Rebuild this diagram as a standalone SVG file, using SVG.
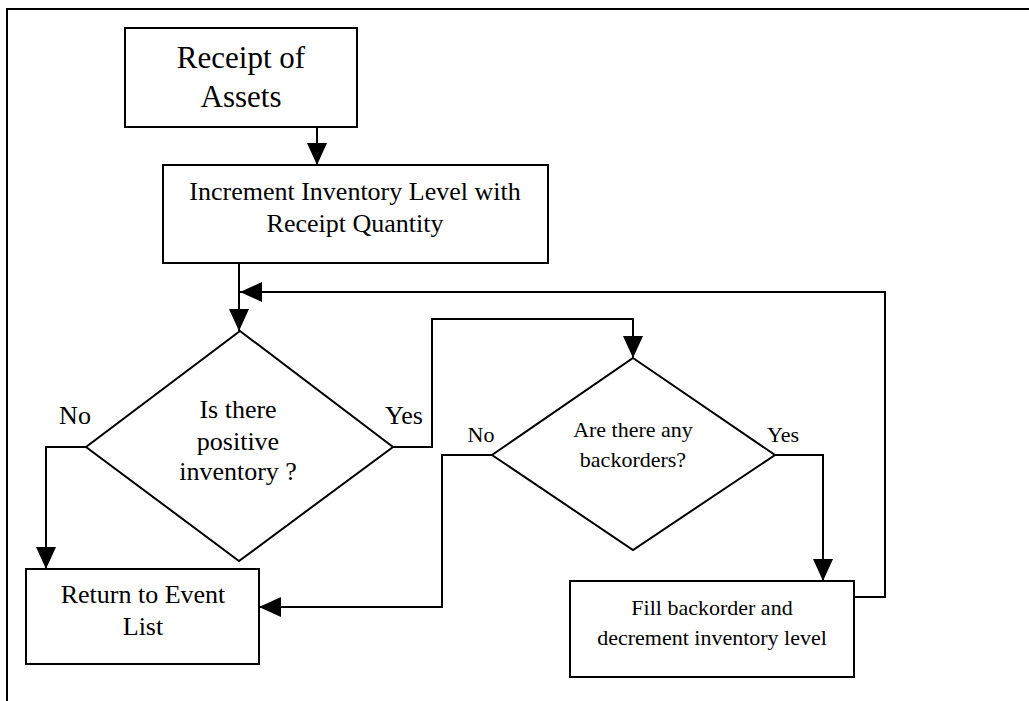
<svg xmlns="http://www.w3.org/2000/svg" width="1029" height="701" viewBox="0 0 1029 701">
<style>
.shape{fill:#fff;stroke:#000;stroke-width:2}
.line{fill:none;stroke:#000;stroke-width:2}
text{font-family:"Liberation Serif","Times New Roman",serif;fill:#000;text-anchor:middle}
</style>
<defs>
<marker id="arr" viewBox="0 0 22 20" refX="22" refY="10" markerWidth="22" markerHeight="20" markerUnits="userSpaceOnUse" orient="auto">
<path d="M0,0 L22,10 L0,20 z" fill="#000"/>
</marker>
</defs>
<rect width="1029" height="701" fill="#fff"/>
<g id="frame">
<path class="line" d="M7,701 V9 H1029"/>
</g>
<g id="connectors">
<path class="line" d="M317,127 V165" marker-end="url(#arr)"/>
<path class="line" d="M239,263 V331" marker-end="url(#arr)"/>
<path class="line" d="M854,597 H885 V292 H240" marker-end="url(#arr)"/>
<path class="line" d="M86,447 H46 V569" marker-end="url(#arr)"/>
<path class="line" d="M393,447 H432 V319 H633 V358" marker-end="url(#arr)"/>
<path class="line" d="M492,455 H442 V607 H259" marker-end="url(#arr)"/>
<path class="line" d="M775,455 H823 V581" marker-end="url(#arr)"/>
</g>
<g id="receipt">
<rect class="shape" x="125" y="28" width="232" height="99"/>
<text x="241" y="68" font-size="31">Receipt of</text>
<text x="241" y="107" font-size="31">Assets</text>
</g>
<g id="increment">
<rect class="shape" x="163" y="165" width="385" height="98"/>
<text x="355" y="200" font-size="26">Increment Inventory Level with</text>
<text x="355" y="232" font-size="26">Receipt Quantity</text>
</g>
<g id="positive">
<polygon class="shape" points="240,331 393,447 239,561 86,447"/>
<text x="238" y="418" font-size="26">Is there</text>
<text x="238" y="450" font-size="26">positive</text>
<text x="238" y="480" font-size="26">inventory ?</text>
<text x="75" y="424" font-size="26">No</text>
<text x="404" y="424" font-size="26">Yes</text>
</g>
<g id="backorders">
<polygon class="shape" points="633,358 775,455 633,550 492,455"/>
<text x="633" y="437" font-size="22">Are there any</text>
<text x="633" y="467" font-size="22">backorders?</text>
<text x="481" y="442" font-size="22">No</text>
<text x="783" y="442" font-size="22">Yes</text>
</g>
<g id="return">
<rect class="shape" x="26" y="569" width="233" height="95"/>
<text x="143" y="603" font-size="26">Return to Event</text>
<text x="143" y="635" font-size="26">List</text>
</g>
<g id="fill">
<rect class="shape" x="570" y="581" width="284" height="96"/>
<text x="712" y="615" font-size="22">Fill backorder and</text>
<text x="712" y="645" font-size="22">decrement inventory level</text>
</g>
</svg>
